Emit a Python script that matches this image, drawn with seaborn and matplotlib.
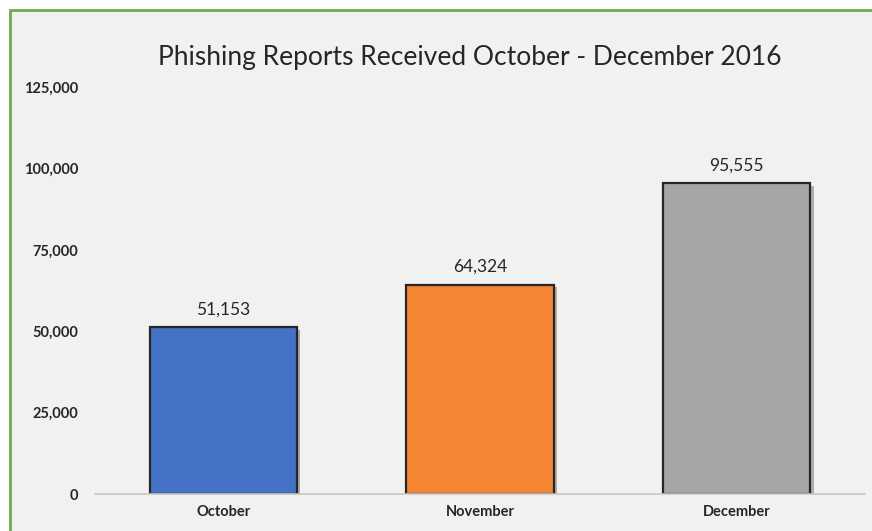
import matplotlib
matplotlib.use("Agg")
import matplotlib.pyplot as plt
import matplotlib.patheffects as pe
from matplotlib.patches import Rectangle
from matplotlib.ticker import FuncFormatter
import seaborn as sns
import pandas as pd

months = ["October", "November", "December"]
reports = [51153, 64324, 95555]
bar_colors = ["#4472c4", "#f58634", "#a6a6a6"]
y_ticks = [0, 25000, 50000, 75000, 100000, 125000]
title = "Phishing Reports Received October - December 2016"

df = pd.DataFrame({"Month": months, "Reports": reports})

sns.set_theme(style="white")
plt.rcParams["font.family"] = ["Lato", "DejaVu Sans"]

fig = plt.figure(figsize=(8.72, 5.31), dpi=100, facecolor="white")

# light grey chart area with green frame (runs off the right and bottom edges)
panel = Rectangle((10 / 872, -0.1), 1.2, 1.1 - 10 / 531, transform=fig.transFigure,
                  facecolor="#f1f1f1", edgecolor="#70ad47", linewidth=2.0, zorder=-5)
fig.patches.append(panel)

ax = fig.add_axes([95 / 872, 37 / 531, (865 - 95) / 872, (494 - 87) / 531])
ax.set_facecolor("none")
ax.set_zorder(2)

sns.barplot(data=df, x="Month", y="Reports", hue="Month", palette=bar_colors,
            order=months, width=0.573, legend=False, ax=ax,
            edgecolor="#262626", linewidth=1.6, saturation=1)

for patch in ax.patches:
    patch.set_path_effects([pe.SimplePatchShadow(offset=(2.5, -2), alpha=0.35),
                            pe.Normal()])

ax.set_xlim(-0.5, 2.5)
ax.set_ylim(0, 125000)
ax.set_yticks(y_ticks)
ax.yaxis.set_major_formatter(FuncFormatter(lambda v, _: f"{int(v):,}"))
ax.tick_params(axis="y", length=0, pad=12, labelsize=10.5)
ax.tick_params(axis="x", length=0, pad=8, labelsize=10.5)
for lbl in ax.get_yticklabels() + ax.get_xticklabels():
    lbl.set_fontweight("bold")
    lbl.set_color("#262626")

for side in ["top", "right", "left"]:
    ax.spines[side].set_visible(False)
ax.spines["bottom"].set_color("#c8c8c8")
ax.spines["bottom"].set_linewidth(1.2)

ax.set_xlabel("")
ax.set_ylabel("")

for i, v in enumerate(reports):
    ax.annotate(f"{v:,}", xy=(i, v), xytext=(0, 7), textcoords="offset points",
                ha="center", va="bottom", fontsize=12.5, color="#262626")

fig.text(470 / 872, 1 - 57 / 531, title, ha="center", va="center",
         fontsize=19, color="#262626")

fig.savefig("out.png", dpi=100, facecolor="white")
